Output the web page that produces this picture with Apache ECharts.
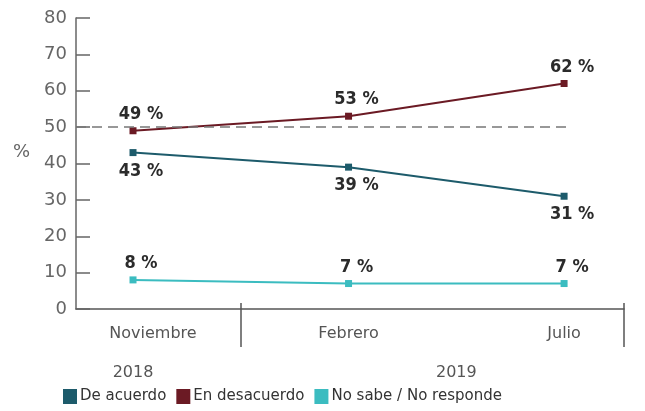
<!DOCTYPE html>
<html>
<head>
<meta charset="utf-8">
<script src="https://cdn.jsdelivr.net/npm/echarts@6/dist/echarts.min.js"></script>
<style>
  html, body { margin: 0; padding: 0; background: #fff; }
  #chart { width: 645px; height: 411px; }
</style>
</head>
<body>
<div id="chart"></div>
<script>
const months = ["Noviembre", "Febrero", "Julio"];
const years = ["2018", "2019"];
const yearPositions = [0, 1.5];     // year label sits under its months
const yearBoundaries = [0.5];       // separator between 2018 and 2019
const yTicks = { min: 0, max: 80, interval: 10 };
const referenceValue = 50;

const deAcuerdo = [43, 39, 31];
const enDesacuerdo = [49, 53, 62];
const noSabe = [8, 7, 7];

const xMin = -0.2645;
const xMax = 2.278;

const gothic = "DejaVu Sans";
const condensed = "DejaVu Sans Condensed";

const toPoints = values => values.map((v, i) => [i, v]);

const chart = echarts.init(document.getElementById("chart"));

function lineSeries(name, values, color, position, distance) {
    return {
        name: name,
        type: "line",
        data: toPoints(values),
        symbol: "rect",
        symbolSize: 7,
        lineStyle: { color: color, width: 2 },
        itemStyle: { color: color },
        label: {
            show: true,
            position: position,
            distance: distance,
            offset: [8, 0],
            formatter: p => p.value[1] + " %",
            fontFamily: condensed,
            fontWeight: "bold",
            fontSize: 18,
            color: "#2b2b2b"
        }
    };
}

const series = [
    lineSeries("De acuerdo", deAcuerdo, "#1d5b6b", "bottom", 6),
    lineSeries("En desacuerdo", enDesacuerdo, "#6b1a24", "top", 4),
    lineSeries("No sabe / No responde", noSabe, "#3bbcc0", "top", 4)
];

series[1].markLine = {
    silent: true,
    symbol: "none",
    label: { show: false },
    lineStyle: { color: "#777", type: [10, 6], width: 1.5 },
    data: [[{ coord: [xMin, referenceValue] }, { coord: [months.length - 1 + 0.03, referenceValue] }]]
};

chart.setOption({
    backgroundColor: "#fff",
    animation: false,
    grid: { left: 76, right: 21, top: 18, bottom: 102 },
    legend: {
        left: 58,
        bottom: 2,
        icon: "rect",
        itemWidth: 14,
        itemHeight: 15,
        itemGap: 10,
        textStyle: { fontFamily: gothic, fontSize: 15, color: "#333", padding: [0, 0, 0, -2] },
        data: series.map(s => s.name)
    },
    xAxis: [{
        type: "value",
        min: xMin,
        max: xMax,
        splitLine: { show: false },
        axisLine: { lineStyle: { color: "#555", width: 1.5 } },
        axisTick: { show: false },
        axisLabel: {
            customValues: months.map((m, i) => i),
            // Noviembre sits a little right of its point
            formatter: v => {
                const name = months[Math.round(v)];
                return Math.round(v) === 0 ? "{first|" + name + "}" : name;
            },
            rich: { first: { fontFamily: gothic, fontSize: 16, color: "#555", padding: [0, 0, 0, 40] } },
            margin: 17,
            fontFamily: gothic,
            fontSize: 16,
            color: "#555"
        }
    }, {
        type: "value",
        min: xMin,
        max: xMax,
        position: "bottom",
        offset: -6,
        splitLine: { show: false },
        axisLine: { show: false },
        axisTick: {
            show: true,
            customValues: yearBoundaries.concat([xMax]),
            length: 44,
            lineStyle: { color: "#555", width: 1.5 }
        },
        axisLabel: {
            customValues: yearPositions,
            formatter: v => years[yearPositions.indexOf(v)],
            margin: 62,
            fontFamily: gothic,
            fontSize: 16,
            color: "#555"
        }
    }],
    yAxis: {
        type: "value",
        min: yTicks.min,
        max: yTicks.max,
        interval: yTicks.interval,
        name: "{p|%}",
        nameLocation: "middle",
        nameRotate: 0,
        nameGap: 46,
        nameTextStyle: {
            rich: { p: { fontFamily: gothic, fontSize: 18, color: "#666", padding: [0, 0, 22, 0] } }
        },
        splitLine: { show: false },
        axisLine: { show: true, onZero: false, lineStyle: { color: "#666", width: 1.5 } },
        axisTick: { show: true, inside: true, length: 14, lineStyle: { color: "#666", width: 1.5 } },
        axisLabel: { fontFamily: gothic, fontSize: 18, color: "#666", margin: 9 }
    },
    series: series
});
</script>
</body>
</html>
